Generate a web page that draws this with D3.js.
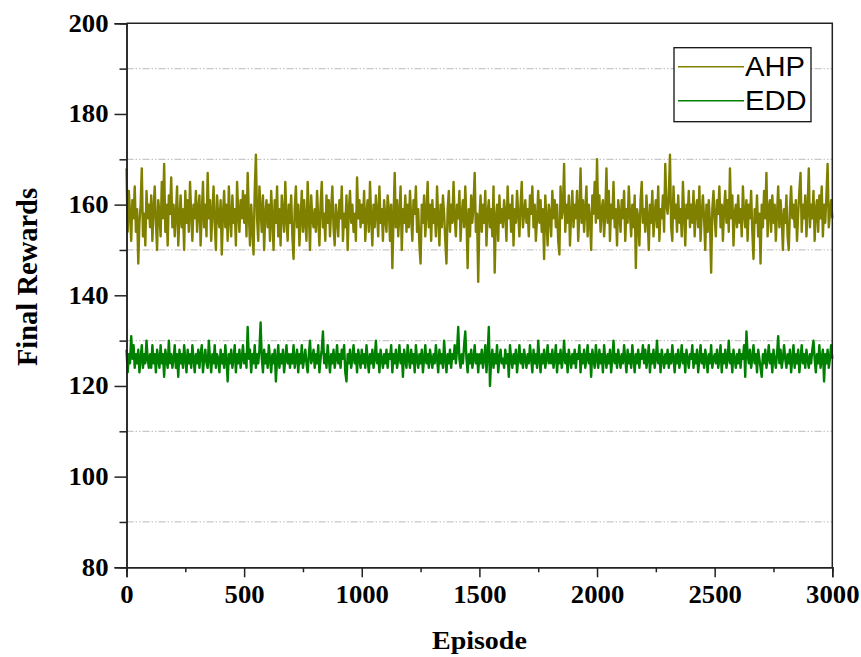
<!DOCTYPE html>
<html>
<head>
<meta charset="utf-8">
<script src="https://cdn.jsdelivr.net/npm/d3@7/dist/d3.min.js"></script>
<style>
    body { margin: 0; background: #fff; }
    .tick text { font-family: "Times New Roman", "Liberation Serif", serif; font-weight: bold; font-size: 24.5px; fill: #000; }
    .axisTitle { font-family: "Times New Roman", "Liberation Serif", serif; font-weight: bold; fill: #000; }
    .legendText { font-family: Arial, "Liberation Sans", sans-serif; font-size: 27px; fill: #000; }
</style>
</head>
<body>
<svg width="861" height="657"></svg>
<script>
// episodes sampled every 5 steps, 0..3000
var episodeStep = 5;

// AHP final rewards, one row = 100 episodes
var ahpRewards = [
    168,154,163,158,152,161,157,164,154,159,147,156,160,168,153,158,151,163,157,160,
    155,162,152,159,164,156,150,161,158,153,165,157,169,154,160,151,162,158,166,155,
    160,153,158,164,151,157,162,155,159,150,163,156,161,154,165,158,152,160,157,163,
    154,159,162,151,158,165,155,160,153,167,157,161,152,158,164,156,150,162,157,155,
    161,149,158,163,155,160,152,164,157,153,162,156,159,151,165,158,154,161,157,163,
    156,162,153,167,158,151,160,155,149,163,171,157,152,164,159,154,162,150,158,161,
    155,160,152,163,157,150,161,156,164,153,159,151,162,158,154,165,157,152,160,156,
    162,153,148,159,164,155,160,151,157,163,154,161,156,152,165,158,150,162,157,155,
    159,154,163,157,151,160,165,155,158,152,162,156,161,153,159,164,155,151,160,157,
    153,161,157,164,152,158,155,162,150,159,163,156,160,154,158,152,166,157,161,155,
    160,156,163,152,158,161,154,165,157,151,160,155,162,158,153,164,156,159,152,161,
    157,154,162,159,152,160,146,157,167,155,161,153,158,164,150,159,156,162,154,160,
    155,163,157,152,161,158,164,154,159,151,147,160,156,162,153,158,165,155,160,152,
    161,156,159,153,164,157,151,160,155,162,158,152,147,159,163,154,160,156,165,157,
    153,160,157,163,152,158,161,155,164,157,146,159,153,162,156,160,167,154,158,143,
    157,162,154,160,156,163,151,158,161,155,159,153,164,145,157,160,152,162,156,159,
    155,161,158,152,164,157,160,154,162,151,159,156,163,158,153,160,165,155,158,161,
    156,159,153,162,158,164,155,160,152,157,163,156,161,154,159,148,162,157,151,160,
    158,153,163,157,161,155,160,152,149,164,157,159,169,154,160,156,162,151,158,163,
    155,160,157,163,152,158,168,156,161,154,159,164,153,160,157,150,162,158,165,156,
    170,157,162,154,159,161,153,158,168,156,163,152,160,157,165,155,159,151,161,158,
    154,161,157,163,152,159,156,164,158,153,160,155,162,146,159,157,151,161,165,156,
    159,154,162,157,150,160,156,163,153,158,161,155,164,152,159,157,162,154,169,160,
    158,162,171,155,152,164,157,160,154,162,156,159,153,165,158,151,160,157,163,155,
    160,156,163,153,159,161,155,164,152,158,162,157,150,160,154,161,156,145,159,163,
    157,153,161,158,164,155,160,152,159,163,156,161,154,168,157,162,151,158,160,155,
    162,156,159,153,164,158,155,161,152,160,157,163,154,148,159,156,162,153,158,147,
    160,155,163,157,167,153,159,161,154,162,156,160,152,158,164,155,161,157,150,159,
    156,162,153,150,159,164,157,160,155,161,152,158,163,167,154,160,157,162,153,159,
    168,155,160,157,163,152,159,161,154,162,157,164,153,160,156,162,169,155,158,161,
    157
];

// EDD final rewards, one row = 100 episodes
var eddRewards = [
    128,123,127,125,131,126,129,124,127,125,128,123,126,129,124,127,125,130,126,124,
    127,124,129,125,127,123,128,126,124,129,125,127,122,128,126,124,130,125,127,124,
    126,129,124,127,122,128,125,127,124,129,126,123,128,125,127,124,129,126,123,127,
    125,128,124,127,129,123,126,128,125,124,130,126,123,127,125,129,124,127,126,123,
    128,125,127,124,129,126,121,127,125,128,124,126,129,123,127,125,128,124,126,129,
    125,127,124,133,126,128,123,127,125,129,124,127,125,128,134,126,123,128,125,127,
    124,129,126,123,127,125,128,121,126,129,124,127,125,128,123,126,129,125,127,124,
    127,125,129,124,126,128,123,127,125,129,124,126,128,125,123,127,130,125,126,128,
    124,127,125,129,123,126,128,132,125,127,124,129,126,123,127,125,128,124,126,129,
    125,127,124,128,126,129,123,121,127,125,128,124,126,129,125,127,123,128,126,124,
    128,125,127,124,129,126,123,127,125,128,124,126,130,125,127,123,128,126,124,127,
    125,128,124,127,126,129,123,127,125,128,124,126,129,125,127,122,128,126,124,129,
    126,124,128,125,127,123,129,126,124,127,125,128,123,126,129,125,127,124,128,126,
    124,127,125,129,126,123,128,125,127,124,130,126,123,127,125,128,124,127,126,129,
    125,128,133,126,124,127,125,129,132,126,123,127,125,128,124,126,129,125,127,123,
    127,125,128,124,126,129,123,127,133,120,126,128,124,127,125,129,123,126,128,125,
    126,124,128,125,127,122,129,126,124,127,125,128,123,126,129,125,127,124,128,126,
    124,127,125,129,126,123,128,125,127,124,130,126,123,127,125,128,124,126,129,125,
    127,125,128,124,126,129,123,127,125,128,124,126,130,125,127,123,128,126,124,127,
    125,128,124,127,126,129,123,127,125,128,124,126,129,125,127,122,128,126,124,129,
    126,124,128,125,127,123,129,126,124,127,125,128,123,126,130,125,127,124,128,126,
    124,127,125,129,126,123,128,125,127,124,129,126,123,127,125,128,124,127,126,129,
    125,128,124,126,129,123,127,125,128,124,126,130,125,127,123,128,126,124,127,125,
    128,124,127,125,129,126,123,127,125,128,124,126,129,125,127,123,128,126,124,127,
    126,129,124,127,125,128,123,126,129,125,127,124,128,126,123,127,125,129,124,126,
    127,125,128,124,126,129,123,127,125,128,124,126,130,125,127,123,128,126,124,127,
    125,128,124,127,126,129,122,132,127,125,128,124,126,129,125,127,123,128,126,124,
    122,127,125,128,124,126,129,125,127,123,128,126,124,127,131,125,128,124,126,129,
    126,124,127,125,128,123,126,129,124,127,125,128,123,126,129,125,127,124,128,126,
    124,127,125,128,130,126,123,127,125,129,124,126,128,121,127,125,128,124,126,129,
    126
];

var seriesNames = ['AHP', 'EDD'];
var seriesColors = ['#808000', '#008000'];

var xTicks = [0, 500, 1000, 1500, 2000, 2500, 3000];
var xMinorTicks = [250, 750, 1250, 1750, 2250, 2750];
var yTicks = [80, 100, 120, 140, 160, 180, 200];
var yMinorTicks = [90, 110, 130, 150, 170, 190];

// the source figure is a little wider than tall, so text gets stretched in x
var textStretch = 1.09;

function createRewardChart() {
    var svg = d3.select('svg');
    var left = 126.5, right = 832.3, top = 23.3, bottom = 567.3;

    var xScale = d3.scaleLinear().domain([0, 3000]).range([left, right]);
    var yScale = d3.scaleLinear().domain([80, 200]).range([bottom, top]);

    // dash-dot-dot grid at the minor y values
    svg.append('g')
        .selectAll('line')
        .data(yMinorTicks)
        .enter()
        .append('line')
            .attr('x1', left)
            .attr('x2', right)
            .attr('y1', d => yScale(d))
            .attr('y2', d => yScale(d))
            .style('stroke', '#c8c8c8')
            .style('stroke-width', 1.2)
            .style('stroke-dasharray', '7,2,1.5,2,1.5,2');

    // series lines
    var toPoints = values => values.map((v, i) => ({ep: i * episodeStep, v: v}));
    var lineGen = d3.line().x(d => xScale(d.ep)).y(d => yScale(d.v));

    [ahpRewards, eddRewards].forEach((values, i) => {
        svg.append('path')
            .datum(toPoints(values))
            .attr('d', lineGen)
            .style('fill', 'none')
            .style('stroke', seriesColors[i])
            .style('stroke-width', 2.4)
            .style('stroke-linejoin', 'round');
    });

    // frame top + right
    svg.append('path')
        .attr('d', 'M' + left + ',' + top + 'H' + right + 'V' + bottom)
        .style('fill', 'none')
        .style('stroke', '#222')
        .style('stroke-width', 1.5);

    // axes
    svg.append('g')
        .attr('transform', 'translate(0,' + bottom + ')')
        .call(d3.axisBottom(xScale).tickValues(xTicks).tickSize(10).tickPadding(8).tickFormat(d3.format('d')));
    svg.append('g')
        .attr('transform', 'translate(0,' + bottom + ')')
        .call(d3.axisBottom(xScale).tickValues(xMinorTicks).tickSize(5).tickFormat(''));

    svg.append('g')
        .attr('class', 'yAxis')
        .attr('transform', 'translate(' + left + ',0)')
        .call(d3.axisLeft(yScale).tickValues(yTicks).tickSize(12).tickPadding(6));
    svg.append('g')
        .attr('transform', 'translate(' + left + ',0)')
        .call(d3.axisLeft(yScale).tickValues(yMinorTicks).tickSize(7).tickFormat(''));

    svg.selectAll('.domain, .tick line')
        .style('stroke', '#222')
        .style('stroke-width', 1.5);

    // stretch tick labels sideways
    svg.selectAll('.tick text')
        .attr('x', function() { return +d3.select(this).attr('x') / textStretch; })
        .attr('transform', 'scale(' + textStretch + ',1)');

    // axis titles
    svg.append('text')
        .attr('class', 'axisTitle')
        .attr('transform', 'translate(' + ((left + right) / 2) + ',649) scale(1.12,1)')
        .style('text-anchor', 'middle')
        .style('font-size', '25px')
        .text('Episode');

    svg.append('text')
        .attr('class', 'axisTitle')
        .attr('transform', 'translate(37,277) rotate(-90)')
        .style('text-anchor', 'middle')
        .style('font-size', '28.5px')
        .text('Final Rewards');

    // legend
    var legend = svg.append('g').attr('transform', 'translate(674,47.7)');
    legend.append('rect')
        .attr('width', 137)
        .attr('height', 74)
        .style('fill', '#fff')
        .style('stroke', '#111')
        .style('stroke-width', 1.3);

    var legendRows = legend.selectAll('g.legendRow')
        .data(seriesNames)
        .enter()
        .append('g')
        .attr('class', 'legendRow')
        .attr('transform', (d, i) => 'translate(0,' + (19 + i * 34) + ')');

    legendRows.append('line')
        .attr('x1', 4)
        .attr('x2', 70)
        .style('stroke', (d, i) => seriesColors[i])
        .style('stroke-width', 1.5);

    legendRows.append('text')
        .attr('class', 'legendText')
        .attr('transform', 'translate(71,9.5) scale(1.08,1)')
        .text(d => d);
}

createRewardChart();
</script>
</body>
</html>
